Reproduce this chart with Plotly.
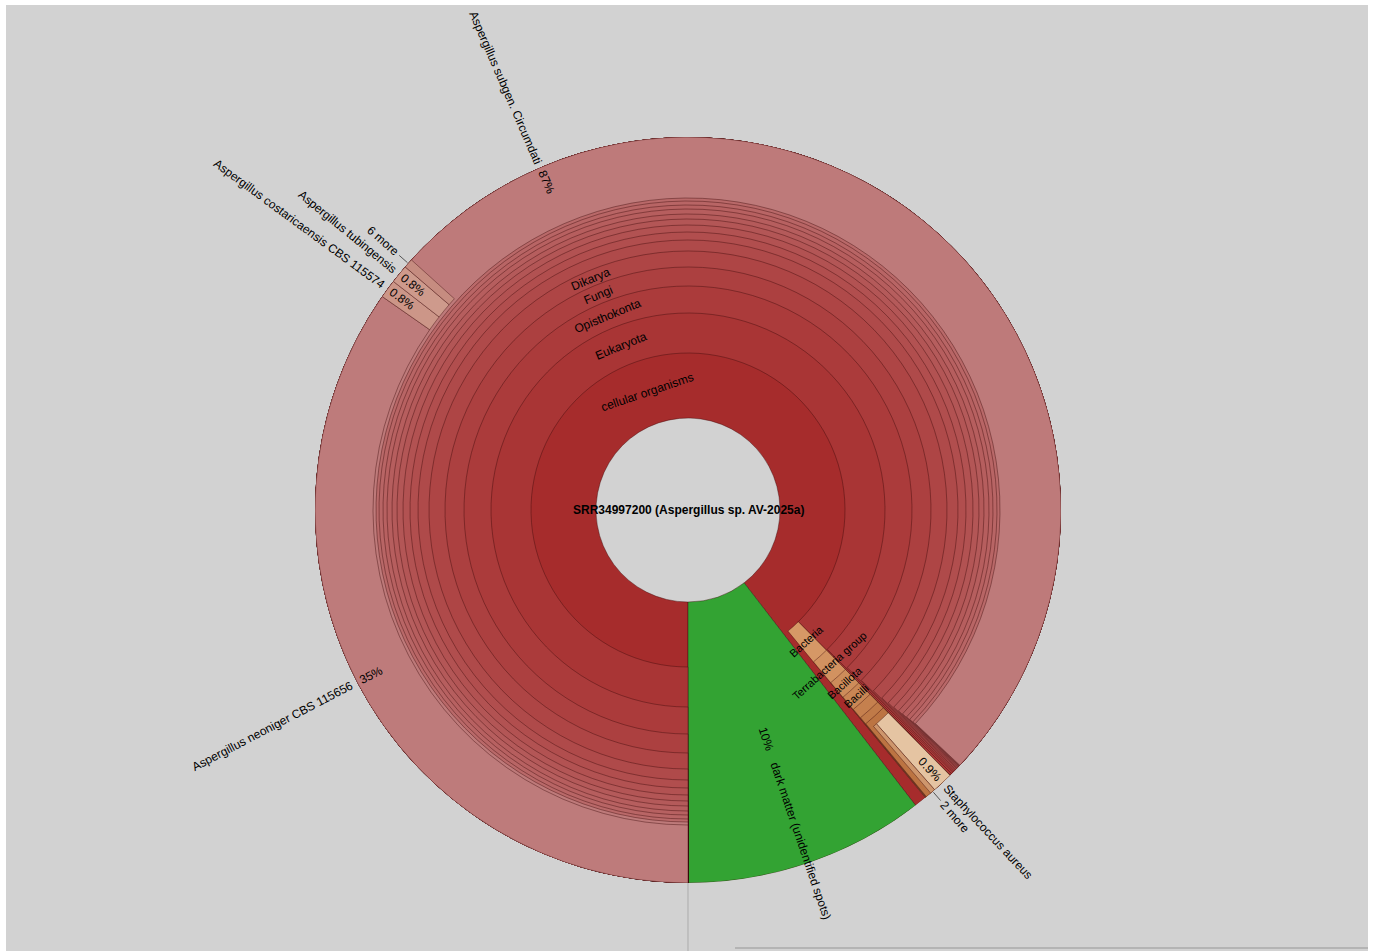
import math
import plotly.graph_objects as go

# ------------------------------------------------------------------ data
ROOT_LABEL = "SRR34997200 (Aspergillus sp. AV-2025a)"

TOP_NAMES = ["cellular organisms", "dark matter (unidentified spots)"]
TOP_PCT = [89.55, 10.45]

EUK_LINEAGE = ["Eukaryota", "Opisthokonta", "Fungi", "Dikarya", "Ascomycota",
               "saccharomyceta", "Pezizomycotina", "leotiomyceta", "Eurotiomycetes",
               "Eurotiomycetidae", "Eurotiales", "Aspergillaceae", "Aspergillus",
               "Aspergillus subgen. Circumdati"]
EUK_PCT = [87.6, 87.5, 87.42, 87.36, 87.3, 87.25, 87.2, 87.16, 87.12,
           87.09, 87.06, 87.04, 87.02, 87.0]

CIRC_SPECIES = ["Aspergillus neoniger CBS 115656", "Aspergillus costaricaensis CBS 115574",
                "Aspergillus tubingensis", "6 more"]
CIRC_SPECIES_PCT = [34.7, 0.8, 0.8, 0.4]

BAC_LINEAGE = ["Bacteria", "Terrabacteria group", "Bacillota", "Bacilli",
               "Bacillales", "Staphylococcaceae", "Staphylococcus"]
BAC_PCT = [1.42, 1.41, 1.40, 1.39, 1.38, 1.37, 1.36]

STAPH_SPECIES = ["Staphylococcus aureus", "2 more"]
STAPH_SPECIES_PCT = [0.9, 0.22]

INNER_LABELS = ["cellular organisms", "Eukaryota", "Opisthokonta", "Fungi", "Dikarya",
                "Bacteria", "Terrabacteria group", "Bacillota", "Bacilli"]
OUTER_LABELS = ["Aspergillus subgen. Circumdati"] + CIRC_SPECIES + STAPH_SPECIES + \
               ["dark matter (unidentified spots)"]

# ------------------------------------------------------------------ geometry / style
W, H = 1373, 951
ML, MT, MR, MB = 6, 5, 5, 0
CX, CY = 688, 510
R_OUT = 373
RING_EDGES = [92, 157, 197, 224, 243, 259, 270, 278, 285, 291, 296, 301, 305, 309, 312, 315]
START_ANGLE = 180.0
BG = "#d2d2d2"
FONT = "Liberation Sans, Arial, sans-serif"


def inner_radius(depth):
    return RING_EDGES[min(depth, len(RING_EDGES)) - 1]


def rgb(c):
    return "rgb(%d,%d,%d)" % tuple(int(round(v)) for v in c)


def euk_color(depth):
    t = max(0.0, (depth - 1) / 14.0) ** 0.75
    return rgb((166 + 20 * t, 44 + 64 * t, 44 + 64 * t))


def bac_color(depth):
    s = max(0.0, (depth - 2) / 6.0)
    return rgb((214 - 26 * s, 152 - 36 * s, 102 - 36 * s))


SPECIAL_COLORS = {
    "Aspergillus subgen. Circumdati": rgb((190, 122, 122)),
    "Aspergillus neoniger CBS 115656": rgb((190, 123, 123)),
    "Aspergillus costaricaensis CBS 115574": rgb((204, 150, 136)),
    "Aspergillus tubingensis": rgb((206, 154, 140)),
    "6 more": rgb((198, 140, 128)),
    "Staphylococcus aureus": rgb((229, 196, 162)),
    "2 more": rgb((206, 150, 108)),
    "dark matter (unidentified spots)": rgb((51, 163, 51)),
}

# ------------------------------------------------------------------ build tree
nodes = []


def add(name, pct, parent, kind):
    depth = 0 if parent is None else nodes[parent]["depth"] + 1
    if name in SPECIAL_COLORS:
        col = SPECIAL_COLORS[name]
    elif kind == "euk":
        col = euk_color(depth)
    else:
        col = bac_color(depth)
    nodes.append(dict(name=name, pct=pct, parent=parent, depth=depth, color=col))
    return len(nodes) - 1


root = add(ROOT_LABEL, 100.0, None, "euk")
cell = add(TOP_NAMES[0], TOP_PCT[0], root, "euk")
p = cell
for nm, v in zip(EUK_LINEAGE, EUK_PCT):
    p = add(nm, v, p, "euk")
circ = p
for nm, v in zip(CIRC_SPECIES, CIRC_SPECIES_PCT):
    add(nm, v, circ, "euk")
p = cell
for nm, v in zip(BAC_LINEAGE, BAC_PCT):
    p = add(nm, v, p, "bac")
staph = p
for nm, v in zip(STAPH_SPECIES, STAPH_SPECIES_PCT):
    add(nm, v, staph, "bac")
add(TOP_NAMES[1], TOP_PCT[1], root, "euk")

# angular layout (clockwise from top, children in order)
cursor = {}
for i, n in enumerate(nodes):
    if n["parent"] is None:
        n["a0"] = START_ANGLE
    else:
        n["a0"] = cursor[n["parent"]]
        cursor[n["parent"]] = n["a0"] + n["pct"] * 3.6
    n["a1"] = n["a0"] + n["pct"] * 3.6
    cursor[i] = n["a0"]

draw = sorted([n for n in nodes if n["depth"] > 0], key=lambda n: n["depth"])
thetas = [((n["a0"] + n["a1"]) / 2.0) % 360 for n in draw]
widths = [n["a1"] - n["a0"] for n in draw]
bases = [inner_radius(n["depth"]) for n in draw]
lengths = [R_OUT - inner_radius(n["depth"]) for n in draw]
colors = [n["color"] for n in draw]

# ------------------------------------------------------------------ text helpers
AW = {' ': 278, '(': 333, ')': 333, '.': 278, '%': 889, '-': 333}
AW.update({d: 556 for d in "0123456789"})
AW.update(dict(zip("ABCDEFGHIJKLMNOPQRSTUVWXYZ",
                   [667, 667, 722, 722, 667, 611, 778, 722, 278, 500, 667, 556, 833,
                    722, 778, 667, 778, 722, 667, 611, 722, 667, 944, 667, 667, 611])))
AW.update(dict(zip("abcdefghijklmnopqrstuvwxyz",
                   [556, 556, 500, 556, 556, 278, 556, 556, 222, 222, 500, 222, 833,
                    556, 556, 556, 556, 333, 500, 278, 556, 500, 722, 500, 500, 500])))


def text_w(s, size):
    return sum(AW.get(ch, 556) for ch in s) / 1000.0 * size


def pol(r, a):
    return r * math.sin(math.radians(a)), r * math.cos(math.radians(a))


def pct_text(v):
    return ("%.1f%%" % v) if v < 1 else ("%.0f%%" % v)


annotations = []


def ann(x, y, text, angle, size, bold=False):
    annotations.append(dict(
        x=x, y=y, xref="x", yref="y", text=("<b>%s</b>" % text) if bold else text,
        textangle=angle, showarrow=False, xanchor="center", yanchor="middle",
        font=dict(family=FONT, size=size, color="#000000")))


by_name = {n["name"]: n for n in nodes}

# inner (tangential) labels
for nm in INNER_LABELS:
    n = by_name[nm]
    a = ((n["a0"] + n["a1"]) / 2.0) % 360
    d = n["depth"]
    r = (RING_EDGES[d - 1] + RING_EDGES[d]) / 2.0
    ang = a - 180 if 90 < a < 270 else (a - 360 if a >= 270 else a)
    size = 11 if nm in BAC_LINEAGE else 12
    x, y = pol(r, a)
    ann(x, y, nm, ang, size)

# outer (radial) labels
NAME_START = {"dark matter (unidentified spots)": 267}
PCT_R = {"dark matter (unidentified spots)": 242}
lead_x, lead_y = [], []
for nm in OUTER_LABELS:
    n = by_name[nm]
    a = ((n["a0"] + n["a1"]) / 2.0) % 360
    ang = a - 90 if a < 180 else a - 270
    more = nm.endswith("more")
    r0 = NAME_START.get(nm, R_OUT + (15 if more else 5))
    wn = text_w(nm, 12)
    x, y = pol(r0 + wn / 2.0, a)
    ann(x, y, nm, ang, 12)
    if more:
        x0, y0 = pol(R_OUT + 1, a)
        x1, y1 = pol(R_OUT + 12, a)
        lead_x += [x0, x1, None]
        lead_y += [y0, y1, None]
    else:
        pt = pct_text(n["pct"])
        rp = PCT_R.get(nm, R_OUT - 4 - text_w(pt, 12) / 2.0)
        x, y = pol(rp, a)
        ann(x, y, pt, ang, 12)

# centre label
ann(0, 0, ROOT_LABEL, 0, 12, bold=True)

# ------------------------------------------------------------------ figure
fig = go.Figure()
fig.add_trace(go.Barpolar(
    theta=thetas, width=widths, base=bases, r=lengths,
    marker=dict(color=colors, line=dict(color="rgba(60,10,10,0.6)", width=0.7)),
    hoverinfo="skip", showlegend=False))
fig.add_trace(go.Scatter(
    x=lead_x, y=lead_y, mode="lines", line=dict(color="#555555", width=1),
    hoverinfo="skip", showlegend=False))

PW, PH = W - ML - MR, H - MT - MB
dom_x = [(CX - R_OUT - ML) / PW, (CX + R_OUT - ML) / PW]
dom_y = [((H - CY) - R_OUT - MB) / PH, ((H - CY) + R_OUT - MB) / PH]
# cartesian overlay spanning the whole plot area, 1 unit = 1 px, origin at the centre
x_rng = [-(CX - ML), (W - MR) - CX]
y_rng = [-((H - MB) - CY), CY - MT]

fig.update_layout(
    width=W, height=H,
    margin=dict(l=ML, r=MR, t=MT, b=MB, pad=0),
    paper_bgcolor="#ffffff",
    plot_bgcolor="rgba(0,0,0,0)",
    showlegend=False,
    polar=dict(
        domain=dict(x=dom_x, y=dom_y),
        bgcolor="rgba(0,0,0,0)",
        barmode="overlay", bargap=0,
        radialaxis=dict(visible=False, range=[0, R_OUT]),
        angularaxis=dict(visible=False, rotation=90, direction="clockwise"),
    ),
    xaxis=dict(domain=[0, 1], range=x_rng, visible=False, fixedrange=True),
    yaxis=dict(domain=[0, 1], range=y_rng, visible=False, fixedrange=True),
    annotations=annotations,
    shapes=[
        dict(type="rect", xref="paper", yref="paper", x0=0, x1=1, y0=0, y1=1,
             fillcolor=BG, line=dict(width=0), layer="below"),
        dict(type="line", xref="x", yref="y", x0=0, x1=0, y0=-R_OUT, y1=y_rng[0],
             line=dict(color="#ababab", width=1), layer="below"),
        dict(type="line", xref="paper", yref="paper", x0=(735 - ML) / PW, x1=1,
             y0=3 / PH, y1=3 / PH, line=dict(color="#b4b4b4", width=2), layer="below"),
    ],
)

fig.write_html("out.html")
